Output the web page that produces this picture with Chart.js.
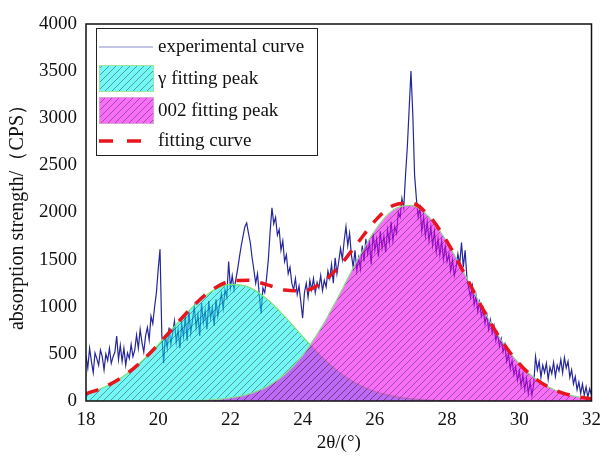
<!DOCTYPE html>
<html>
<head>
<meta charset="utf-8">
<script src="https://cdn.jsdelivr.net/npm/chart.js@4.4.0/dist/chart.umd.min.js"></script>
<style>
  html, body { margin: 0; padding: 0; background: #fff; }
</style>
</head>
<body>
<canvas id="xrd" width="609" height="466"></canvas>
<script>
// ---- values ----
// experimental curve, sampled every 0.05 deg from 18 to 32
const expStart = 18;
const expStep = 0.05;
const expIntensity = [
  480, 350, 560, 420, 300, 510, 450, 380, 540, 470, 330, 500, 430, 560, 400, 470, 520, 690, 440, 590,
  420, 560, 380, 510, 450, 600, 470, 540, 700, 560, 760, 620, 520, 690, 780, 650, 900, 820, 1000, 1150,
  1400, 1610, 700, 400, 700, 560, 780, 600, 720, 850, 620, 760, 560, 820, 680, 900, 640, 950, 720, 860,
  1000, 780, 920, 690, 1040, 830, 960, 760, 1060, 880, 990, 800, 1080, 900, 1020, 1140, 980, 1180, 1100, 1480,
  1200, 1330, 1180, 1290, 1400, 1530, 1650, 1750, 1850, 1890, 1780, 1680, 1520, 1390, 1250, 1350, 1120, 930, 1200, 1150,
  1300, 1500, 1800, 2050, 1880, 1950, 1760, 1820, 1600, 1700, 1480, 1550, 1350, 1420, 1250, 1180, 1300, 1130, 1220, 1050,
  880, 1150, 1250, 1100, 1280, 1180, 1300, 1150, 1260, 1200, 1330, 1170, 1280, 1210, 1380, 1300, 1450, 1250, 1520, 1350,
  1480, 1620, 1500, 1700, 1850, 1650, 1780, 1550, 1420, 1600, 1380, 1520, 1400, 1650, 1480, 1720, 1560, 1680, 1450, 1780,
  1600, 1720, 1530, 1800, 1620, 1750, 1580, 1820, 1680, 1900, 1700, 1850, 1780, 2000, 1950, 2150, 2050, 2400, 2700, 3100,
  3500, 3050, 2400, 2150, 1950, 2050, 1800, 1950, 1750, 1900, 1700, 1850, 1650, 1800, 1580, 1720, 1550, 1700, 1500, 1640,
  1480, 1560, 1380, 1500, 1330, 1420, 1560, 1450, 1680, 1420, 1600, 1300, 1200, 1100, 1220, 1020, 1120, 950, 1050, 900,
  980, 820, 920, 760, 860, 720, 800, 640, 720, 580, 660, 520, 600, 420, 500, 340, 430, 280, 360, 220,
  320, 160, 280, 120, 240, 80, 200, 60, 180, 470, 330, 420, 250, 380, 300, 400, 230, 360, 290, 410,
  260, 380, 320, 440, 300, 460, 350, 420, 250, 330, 180, 260, 120, 200, 80, 180, 60, 150, 40, 130,
  60
];

// fitted peaks, every 0.5 deg
const fitAngles = [18, 18.5, 19, 19.5, 20, 20.5, 21, 21.5, 22, 22.5, 23, 23.5, 24, 24.5, 25,
  25.5, 26, 26.5, 27, 27.5, 28, 28.5, 29, 29.5, 30, 30.5, 31, 31.5, 32];
const gammaPeak = [77, 146, 253, 406, 598, 812, 1015, 1168, 1238, 1208, 1085, 897, 683, 479, 309,
  183, 101, 51, 23, 10, 4, 2, 1, 0, 0, 0, 0, 0, 0];
const peak002 = [0, 0, 0, 0, 1, 2, 5, 13, 33, 73, 150, 281, 485, 768, 1114,
  1482, 1808, 2023, 2076, 1954, 1687, 1336, 970, 645, 395, 221, 114, 54, 23];
const fitCurve = [77, 146, 253, 406, 599, 814, 1020, 1181, 1271, 1281, 1235, 1178, 1168, 1247, 1423,
  1665, 1909, 2074, 2099, 1964, 1691, 1338, 971, 645, 395, 221, 114, 54, 23];

const seriesNames = ['experimental curve', 'γ fitting peak', '002 fitting peak', 'fitting curve'];

const FONT = "'Liberation Serif', 'Times New Roman', serif";

// hatched fill like the original
function hatch(fill) {
  const c = document.createElement('canvas');
  c.width = 7; c.height = 7;
  const g = c.getContext('2d');
  g.fillStyle = fill;
  g.fillRect(0, 0, 7, 7);
  g.strokeStyle = 'rgba(40,40,40,0.55)';
  g.lineWidth = 0.8;
  g.beginPath();
  g.moveTo(-1, 8);
  g.lineTo(8, -1);
  g.stroke();
  return g.createPattern(c, 'repeat');
}
const cyanHatch = hatch('rgba(0,240,240,0.55)');
const magentaHatch = hatch('rgba(245,0,245,0.57)');

const expPoints = expIntensity.map((v, i) => ({ x: +(expStart + i * expStep).toFixed(2), y: v }));
const toPoints = (arr) => fitAngles.map((a, i) => ({ x: a, y: arr[i] }));

// frame + legend box
const framePlugin = {
  id: 'frame',
  afterDraw(chart) {
    const { ctx, chartArea: a } = chart;
    ctx.save();
    ctx.strokeStyle = '#111';
    ctx.lineWidth = 1.5;
    ctx.strokeRect(a.left, a.top, a.right - a.left, a.bottom - a.top);

    // legend
    const bx = 96, by = 28, bw = 221, bh = 127;
    ctx.fillStyle = '#fff';
    ctx.fillRect(bx, by, bw, bh);
    ctx.lineWidth = 1;
    ctx.strokeStyle = '#222';
    ctx.strokeRect(bx + 0.5, by + 0.5, bw, bh);

    ctx.font = '19px ' + FONT;
    ctx.fillStyle = '#111';
    ctx.textBaseline = 'middle';
    const sx = 99, sw = 54, tx = 158;
    // experimental
    ctx.strokeStyle = '#8a8ad0';
    ctx.lineWidth = 1;
    ctx.beginPath(); ctx.moveTo(sx, 47); ctx.lineTo(sx + sw, 47); ctx.stroke();
    ctx.fillText(seriesNames[0], tx, 47);
    // gamma
    ctx.fillStyle = cyanHatch;
    ctx.fillRect(sx, 65, sw, 26);
    ctx.strokeStyle = '#9be89b';
    ctx.strokeRect(sx + 0.5, 65.5, sw, 26);
    ctx.fillStyle = '#111';
    ctx.fillText(seriesNames[1], tx, 79);
    // 002
    ctx.fillStyle = magentaHatch;
    ctx.fillRect(sx, 97, sw, 26);
    ctx.strokeStyle = '#d9a0d9';
    ctx.strokeRect(sx + 0.5, 97.5, sw, 26);
    ctx.fillStyle = '#111';
    ctx.fillText(seriesNames[2], tx, 111);
    // fitting curve
    ctx.strokeStyle = '#e8161c';
    ctx.lineWidth = 3.5;
    ctx.setLineDash([14, 14]);
    ctx.beginPath(); ctx.moveTo(sx, 141); ctx.lineTo(sx + sw, 141); ctx.stroke();
    ctx.setLineDash([]);
    ctx.fillText(seriesNames[3], tx, 141);
    ctx.restore();
  }
};

new Chart(document.getElementById('xrd'), {
  type: 'line',
  data: {
    datasets: [
      {
        label: seriesNames[0],
        data: expPoints,
        borderColor: '#25259c',
        borderWidth: 1.2,
        pointRadius: 0,
        fill: false,
        order: 3,
      },
      {
        label: seriesNames[1],
        data: toPoints(gammaPeak),
        borderColor: '#74e874',
        borderWidth: 1.2,
        backgroundColor: cyanHatch,
        fill: 'origin',
        pointRadius: 0,
        cubicInterpolationMode: 'monotone',
        order: 2,
      },
      {
        label: seriesNames[2],
        data: toPoints(peak002),
        borderColor: '#8fd88f',
        borderWidth: 1.2,
        backgroundColor: magentaHatch,
        fill: 'origin',
        pointRadius: 0,
        cubicInterpolationMode: 'monotone',
        order: 1,
      },
      {
        label: seriesNames[3],
        data: toPoints(fitCurve),
        borderColor: '#e8161c',
        borderWidth: 3.5,
        borderDash: [13, 11],
        pointRadius: 0,
        fill: false,
        cubicInterpolationMode: 'monotone',
        order: 0,
      },
    ],
  },
  options: {
    responsive: false,
    animation: false,
    layout: { padding: { left: 2, right: 10, top: 24, bottom: 8 } },
    plugins: {
      legend: { display: false },
      tooltip: { enabled: false },
    },
    scales: {
      x: {
        type: 'linear',
        min: 18,
        max: 32,
        grid: { display: false, drawTicks: false },
        border: { display: false },
        ticks: { stepSize: 2, padding: 8, color: '#111', font: { family: FONT, size: 19 },
          callback: (v) => String(v) },
        title: { display: true, text: '2θ/(°)', color: '#111', font: { family: FONT, size: 19 } },
        afterFit(s) { s.height = 57; },
      },
      y: {
        min: 0,
        max: 4000,
        grid: { display: false, drawTicks: false },
        border: { display: false },
        ticks: { stepSize: 500, padding: 9, color: '#111', font: { family: FONT, size: 19 },
          callback: (v) => String(v) },
        title: { display: true, text: 'absorption strength/（CPS）', color: '#111', font: { family: FONT, size: 20 } },
        afterFit(s) { s.width = 84; },
      },
    },
  },
  plugins: [framePlugin],
});
</script>
</body>
</html>
